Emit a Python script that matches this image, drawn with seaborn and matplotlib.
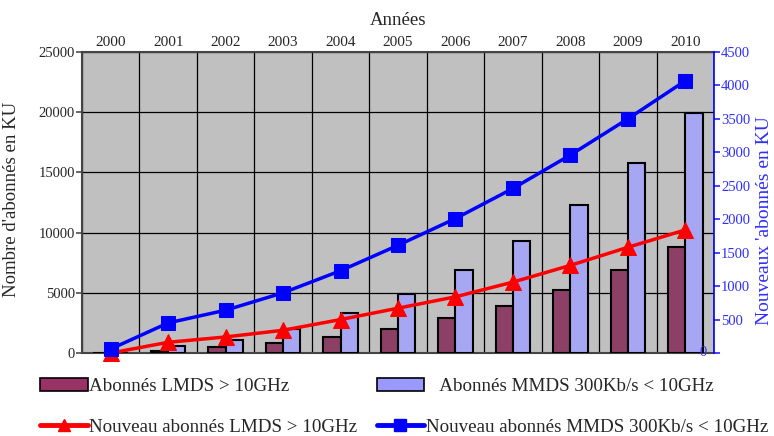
import numpy as np
import pandas as pd
import matplotlib
matplotlib.use("Agg")
import matplotlib.pyplot as plt
import seaborn as sns
from matplotlib.patches import Patch
from matplotlib.lines import Line2D

years = ["2000", "2001", "2002", "2003", "2004", "2005", "2006", "2007", "2008", "2009", "2010"]
lmds_subs = [30, 200, 500, 800, 1300, 2000, 2900, 3900, 5200, 6900, 8800]
mmds_subs = [40, 600, 1100, 2000, 3300, 4900, 6900, 9300, 12300, 15800, 19900]
lmds_new = [0, 160, 240, 340, 500, 670, 840, 1060, 1310, 1580, 1840]
mmds_new = [60, 450, 640, 900, 1230, 1610, 2010, 2460, 2960, 3500, 4070]
left_ticks = [0, 5000, 10000, 15000, 20000, 25000]
right_ticks = [0, 500, 1000, 1500, 2000, 2500, 3000, 3500, 4000, 4500]

lab_lmds = "Abonnés LMDS > 10GHz"
lab_mmds = "Abonnés MMDS 300Kb/s < 10GHz"
lab_lmds_new = "Nouveau abonnés LMDS > 10GHz"
lab_mmds_new = "Nouveau abonnés MMDS 300Kb/s < 10GHz"

sns.set_theme(style="white")
plt.rcParams["font.family"] = ["Liberation Serif", "DejaVu Serif"]
plt.rcParams["font.size"] = 11

df = pd.DataFrame({
    "year": years * 2,
    "value": lmds_subs + mmds_subs,
    "serie": [lab_lmds] * len(years) + [lab_mmds] * len(years),
})

c_lmds = "#993366"
c_mmds = "#9999FF"
blue_txt = "#2E2EFF"

fig = plt.figure(figsize=(7.74, 4.36), dpi=100)
ax = fig.add_axes([82 / 774, 1 - 353 / 436, (714 - 82) / 774, (353 - 52) / 436])
ax.set_facecolor("#C0C0C0")

sns.barplot(data=df, x="year", y="value", hue="serie", order=years,
            palette=[c_lmds, c_mmds], width=0.6, edgecolor="black",
            linewidth=1.5, ax=ax, legend=False, zorder=3)

ax.set_xlim(-0.5, len(years) - 0.5)
ax.set_ylim(left_ticks[0], left_ticks[-1])
ax.set_yticks(left_ticks)
ax.xaxis.tick_top()
ax.xaxis.set_label_position("top")
ax.set_xticks(np.arange(len(years)))
ax.set_xticklabels(years)
ax.set_xticks(np.arange(len(years) + 1) - 0.5, minor=True)
ax.tick_params(axis="x", which="major", length=0, pad=2, labelsize=11)
ax.tick_params(axis="x", which="minor", length=0)
ax.tick_params(axis="y", which="major", length=4, left=True, color="#555555", labelsize=10.5, pad=1)
ax.grid(axis="x", which="minor", color="black", linewidth=0.9)
ax.grid(axis="y", which="major", color="black", linewidth=0.9)
ax.set_axisbelow(True)
ax.set_xlabel("Années", fontsize=13.5, labelpad=8)
ax.set_ylabel("Nombre d'abonnés en KU", fontsize=13.5)
ax.yaxis.set_label_coords(-0.098, 0.51)
for s in ["top", "bottom", "left"]:
    ax.spines[s].set_color("#444444")
    ax.spines[s].set_linewidth(1.5)
ax.spines["right"].set_visible(False)

ax2 = ax.twinx()
x_idx = np.arange(len(years))
sns.lineplot(x=x_idx, y=lmds_new, ax=ax2, color="#FF0000", linewidth=2.5,
             marker="^", markersize=11, markeredgecolor="#FF0000", clip_on=False, zorder=5)
sns.lineplot(x=x_idx, y=mmds_new, ax=ax2, color="#0000FF", linewidth=2.5,
             marker="s", markersize=10, markeredgecolor="#0000FF", clip_on=False, zorder=5)
ax2.set_ylim(right_ticks[0], right_ticks[-1])
ax2.set_yticks(right_ticks, labels=[""] + [str(t) for t in right_ticks[1:]])
ax2.set_xlim(-0.5, len(years) - 0.5)
ax2.text(len(years) - 0.5, right_ticks[0], "0  ", ha="right", va="center",
         color=blue_txt, fontsize=10.5, transform=ax2.transData)
ax2.tick_params(axis="y", colors=blue_txt, length=4, right=True, labelsize=10.5, pad=1)
ax2.set_ylabel("Nouveaux 'abonnés en KU", color=blue_txt, fontsize=14)
ax2.yaxis.set_label_coords(1.066, 0.44)
ax2.spines["right"].set_color("#0000FF")
ax2.spines["right"].set_linewidth(1.2)
for s in ["top", "bottom", "left"]:
    ax2.spines[s].set_visible(False)
ax2.grid(False)

handles = [
    Patch(facecolor=c_lmds, edgecolor="black", linewidth=1.2),
    Line2D([], [], color="#FF0000", linewidth=3.5, marker="^", markersize=9),
    Patch(facecolor=c_mmds, edgecolor="black", linewidth=1.2),
    Line2D([], [], color="#0000FF", linewidth=3.5, marker="s", markersize=9),
]
labels = [lab_lmds, lab_lmds_new, "   " + lab_mmds, lab_mmds_new]
fig.legend(handles, labels, loc="lower left", bbox_to_anchor=(40 / 774, 0.5 / 436),
           ncol=2, frameon=False, fontsize=13.7, handlelength=2.5, handleheight=0.7,
           handletextpad=0.1, columnspacing=1.0, labelspacing=1.2,
           borderaxespad=0, borderpad=0)

fig.savefig("out.png", dpi=100)
